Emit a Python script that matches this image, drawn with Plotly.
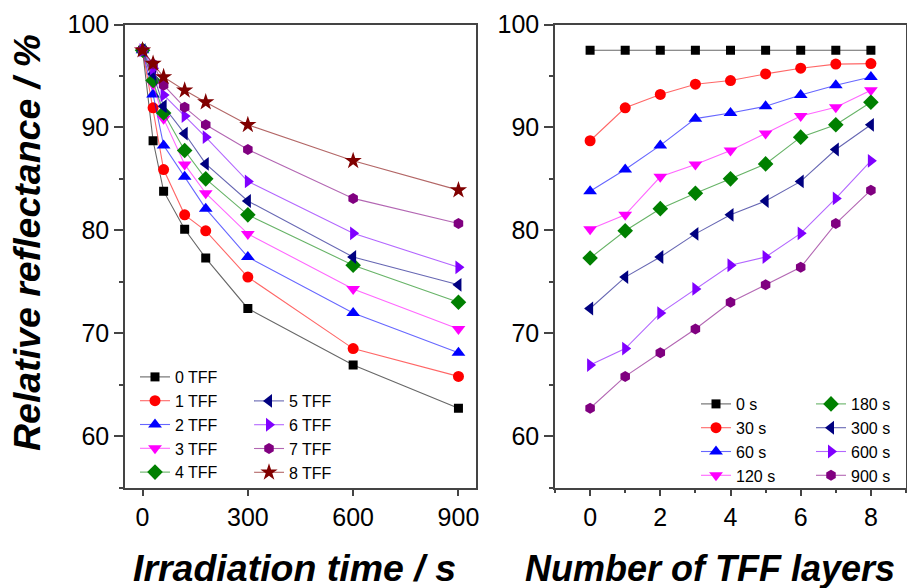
import plotly.graph_objects as go

# ---------------- data ----------------
times = [0, 30, 60, 120, 180, 300, 600, 900]          # irradiation time / s
layers = [0, 1, 2, 3, 4, 5, 6, 7, 8]                   # number of TFF layers

# relative reflectance (%) for each irradiation time, versus number of layers 0..8
refl_0s   = [97.5, 97.5, 97.5, 97.5, 97.5, 97.5, 97.5, 97.5, 97.5]
refl_30s  = [88.7, 91.9, 93.2, 94.2, 94.55, 95.2, 95.75, 96.15, 96.2]
refl_60s  = [83.8, 85.9, 88.25, 90.85, 91.4, 92.05, 93.15, 94.1, 94.9]
refl_120s = [80.1, 81.5, 85.2, 86.4, 87.75, 89.4, 91.1, 91.95, 93.6]
refl_180s = [77.3, 79.95, 82.1, 83.6, 85.0, 86.45, 89.05, 90.25, 92.45]
refl_300s = [72.4, 75.45, 77.4, 79.65, 81.5, 82.85, 84.75, 87.85, 90.25]
refl_600s = [66.9, 68.5, 71.95, 74.3, 76.6, 77.4, 79.7, 83.1, 86.75]
refl_900s = [62.7, 65.8, 68.1, 70.4, 73.0, 74.7, 76.4, 80.65, 83.9]

time_labels = ["0 s", "30 s", "60 s", "120 s", "180 s", "300 s", "600 s", "900 s"]
tff_labels = ["0 TFF", "1 TFF", "2 TFF", "3 TFF", "4 TFF", "5 TFF", "6 TFF", "7 TFF", "8 TFF"]

x_ticks_left = [0, 300, 600, 900]
x_ticks_right = [0, 2, 4, 6, 8]
y_ticks = [60, 70, 80, 90, 100]

# ---------------- styles ----------------
colors = ["#000000", "#ff0000", "#0000ff", "#ff00ff", "#008000",
          "#000080", "#8000ff", "#800080", "#800000"]
symbols = ["square", "circle", "triangle-up", "triangle-down", "diamond",
           "triangle-left", "triangle-right", "hexagon", "star"]
msizes = [9, 11, 12, 12, 12, 12, 12, 11, 13]


def rgba(hexc, a):
    h = hexc.lstrip("#")
    return "rgba(%d,%d,%d,%.2f)" % (int(h[0:2], 16), int(h[2:4], 16), int(h[4:6], 16), a)


by_time = [refl_0s, refl_30s, refl_60s, refl_120s, refl_180s, refl_300s, refl_600s, refl_900s]

FONT = "Liberation Sans, Arial, sans-serif"
W, H = 907, 588

fig = go.Figure()

# left panel: one series per TFF layer count, vs irradiation time
for i, lab in enumerate(tff_labels):
    yvals = [series[i] for series in by_time]
    fig.add_trace(go.Scatter(
        x=times, y=yvals, name=lab, mode="lines+markers",
        line=dict(color=rgba(colors[i], 0.6), width=1.1),
        marker=dict(symbol=symbols[i], color=colors[i], size=msizes[i], line=dict(width=0)),
        xaxis="x", yaxis="y",
        legend="legend" if i <= 4 else "legend2",
    ))

# right panel: one series per irradiation time, vs number of layers
for j, lab in enumerate(time_labels):
    fig.add_trace(go.Scatter(
        x=layers, y=by_time[j], name=lab, mode="lines+markers",
        line=dict(color=rgba(colors[j], 0.6), width=1.1),
        marker=dict(symbol=symbols[j], color=colors[j], size=msizes[j], line=dict(width=0)),
        xaxis="x2", yaxis="y2",
        legend="legend3" if j <= 3 else "legend4",
    ))

AX = "#444444"
ydom = [(H - 487.5) / H, (H - 24.5) / H]

common_axis = dict(showline=True, linecolor=AX, linewidth=1.5, mirror=True,
                   showgrid=False, zeroline=False, ticks="outside",
                   tickcolor=AX, tickwidth=1.5, automargin=False,
                   tickfont=dict(family=FONT, size=25, color="black"))

fig.update_layout(
    width=W, height=H,
    margin=dict(l=0, r=0, t=0, b=0, pad=0, autoexpand=False),
    paper_bgcolor="white", plot_bgcolor="white",
    font=dict(family=FONT, color="black"),
    xaxis=dict(domain=[125 / W, 476 / W], range=[-50, 950], tickvals=x_ticks_left,
               ticklen=7, anchor="y", **common_axis),
    yaxis=dict(domain=ydom, range=[55, 100], tickvals=y_ticks, ticklen=9,
               minor=dict(dtick=5, ticklen=4, tickcolor=AX, tickwidth=1.5, ticks="outside"),
               anchor="x", **common_axis),
    xaxis2=dict(domain=[555 / W, 906 / W], range=[-1, 9], tickvals=x_ticks_right,
                ticklen=7, anchor="y2",
                minor=dict(dtick=1, ticklen=4, tickcolor=AX, tickwidth=1.5, ticks="outside"),
                **common_axis),
    yaxis2=dict(domain=ydom, range=[55, 100], tickvals=y_ticks, ticklen=9,
                minor=dict(dtick=5, ticklen=4, tickcolor=AX, tickwidth=1.5, ticks="outside"),
                anchor="x2", **common_axis),
    showlegend=True,
)

leg_common = dict(bgcolor="rgba(0,0,0,0)", borderwidth=0, font=dict(family=FONT, size=16, color="black"),
                  xanchor="left", yanchor="top", tracegroupgap=0, itemclick=False)
fig.update_layout(
    legend=dict(x=135 / W, y=1 - 360 / H, **leg_common),
    legend2=dict(x=249 / W, y=1 - 384 / H, **leg_common),
    legend3=dict(x=696 / W, y=1 - 387 / H, **leg_common),
    legend4=dict(x=811 / W, y=1 - 387 / H, **leg_common),
)

title_font = dict(family=FONT, size=37.5, color="black", weight="bold", style="italic")
fig.add_annotation(text="Relative reflectance / %", xref="paper", yref="paper",
                   x=27 / W, y=1 - 243 / H, textangle=-90, showarrow=False,
                   xanchor="center", yanchor="middle", font=title_font)
fig.add_annotation(text="Irradiation time / s", xref="paper", yref="paper",
                   x=294 / W, y=1 - 568 / H, showarrow=False,
                   xanchor="center", yanchor="middle", font=title_font)
fig.add_annotation(text="Number of TFF layers", xref="paper", yref="paper",
                   x=523 / W, y=1 - 568 / H, showarrow=False,
                   xanchor="left", yanchor="middle",
                   font=dict(family=FONT, size=36, color="black", weight="bold", style="italic"))

fig.write_html("out.html", config={"displayModeBar": False},
               post_script="document.body.style.margin='0px';")
